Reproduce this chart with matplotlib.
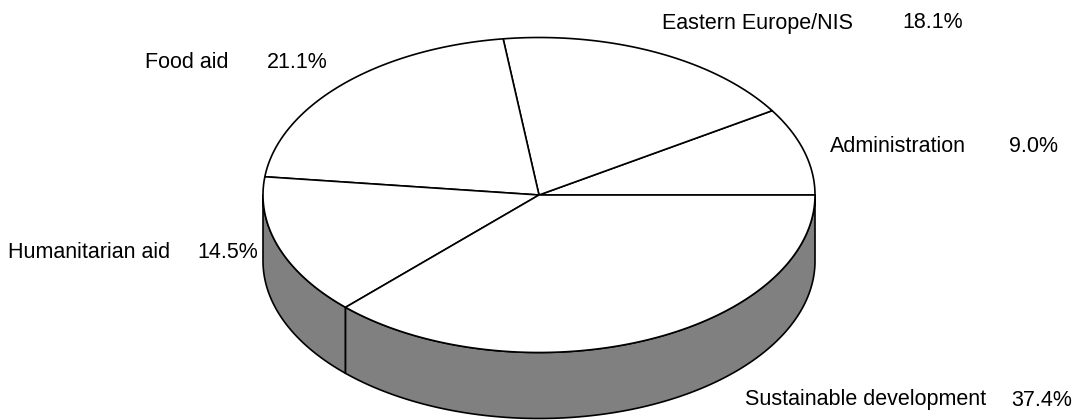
import numpy as np
import matplotlib
matplotlib.use("Agg")
import matplotlib.pyplot as plt
from matplotlib.patches import Polygon

# Budget shares (percent), drawn counter-clockwise starting from 3 o'clock
categories = ["Administration", "Eastern Europe/NIS", "Food aid",
              "Humanitarian aid", "Sustainable development"]
shares = [9.0, 18.1, 21.1, 14.5, 37.4]
pct_labels = ["9.0%", "18.1%", "21.1%", "14.5%", "37.4%"]

# Label placement in pixel space: name left edge, percent right edge, centre y
name_x = [830, 662, 145, 8, 745]
pct_right = [1058, 963, 328, 258, 1072]
label_y = [147, 23, 62, 253, 400]

W, H = 1076, 420
fig = plt.figure(figsize=(W / 100, H / 100), dpi=100)
ax = fig.add_axes([0, 0, 1, 1])
ax.set_xlim(0, W)
ax.set_ylim(H, 0)
ax.axis("off")

cx, cy = 539.0, 195.0      # centre of the top face
rx, ry = 276.0, 157.5      # radii of the tilted ellipse
depth = 66.0               # thickness of the disc
side_color = "#808080"
lw = 1.2


def rim(a0, a1, dy=0.0, n=200):
    t = np.radians(np.linspace(a0, a1, n))
    return np.column_stack([cx + rx * np.cos(t), cy - ry * np.sin(t) + dy])


total = float(sum(shares))
bounds = np.concatenate([[0.0], np.cumsum(shares) / total * 360.0])

# Side wall: only the front half (180..360 degrees) is visible
for a0, a1 in zip(bounds[:-1], bounds[1:]):
    s0, s1 = max(a0, 180.0), min(a1, 360.0)
    if s1 <= s0:
        continue
    top = rim(s0, s1)
    bot = rim(s1, s0, dy=depth)
    ax.add_patch(Polygon(np.vstack([top, bot]), closed=True,
                         facecolor=side_color, edgecolor="black",
                         linewidth=lw, joinstyle="round"))

# Top face wedges
for a0, a1 in zip(bounds[:-1], bounds[1:]):
    pts = np.vstack([[cx, cy], rim(a0, a1)])
    ax.add_patch(Polygon(pts, closed=True, facecolor="white",
                         edgecolor="black", linewidth=lw, joinstyle="round"))

# Labels: category name and its share
font = dict(fontsize=15.5, family=["Liberation Sans", "DejaVu Sans"],
            color="black", va="center")
for name, pct, nx, px, y in zip(categories, pct_labels, name_x, pct_right, label_y):
    ax.text(nx, y, name, ha="left", **font)
    ax.text(px, y, pct, ha="right", **font)

fig.savefig("out.png", dpi=100)
